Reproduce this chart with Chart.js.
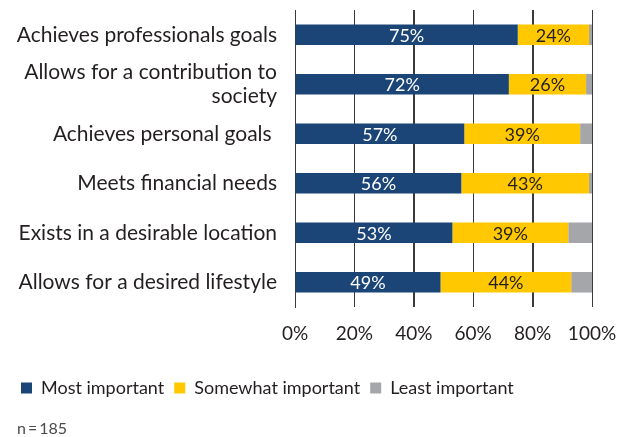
<!DOCTYPE html>
<html>
<head>
<meta charset="utf-8">
<script src="https://cdn.jsdelivr.net/npm/chart.js@4/dist/chart.umd.min.js"></script>
<style>
  html, body { margin: 0; padding: 0; background: #fff; }
  .wrap { position: relative; width: 617px; height: 437px; }
  #chart { display: block; }
  #note {
    position: absolute; left: 17px; top: 418px;
    font: 16px Lato, "Open Sans", sans-serif; line-height: 20px; color: #4a4a4a;
  }
</style>
</head>
<body>
<div class="wrap">
  <canvas id="chart" width="617" height="437"></canvas>
  <div id="note"></div>
</div>
<script>
// ===== data =====
const categories = [
  "Achieves professionals goals",
  ["Allows for a contribution to", "society"],
  "Achieves personal goals ",
  "Meets financial needs",
  "Exists in a desirable location",
  "Allows for a desired lifestyle"
];
const mostImportant = [75, 72, 57, 56, 53, 49];
const somewhatImportant = [24, 26, 39, 43, 39, 44];
const leastImportant = [1, 2, 4, 1, 8, 7];
const seriesNames = ["Most important", "Somewhat important", "Least important"];
const xTicks = [0, 20, 40, 60, 80, 100];
const note = "n\u2009=\u2009185";

// ===== style =====
const FONT = "Lato, 'Open Sans', sans-serif";
const BLUE = "#1b4477";
const YELLOW = "#ffc800";
const GREY = "#a5a6a9";
const TEXT = "#231f20";
const GRID = "#3a3a3a";

document.getElementById("note").textContent = note;

// vertical grid lines at the x ticks, painted behind what is already drawn
const xGrid = {
  id: "xGrid",
  afterDraw(chart){
    const { ctx, chartArea } = chart;
    const sx = chart.scales.x;
    ctx.save();
    ctx.globalCompositeOperation = "destination-over";
    ctx.strokeStyle = GRID;
    ctx.lineWidth = 1;
    xTicks.forEach(v => {
      const x = Math.round(sx.getPixelForValue(v)) + 0.5;
      ctx.beginPath();
      ctx.moveTo(x, chartArea.top);
      ctx.lineTo(x, chartArea.bottom);
      ctx.stroke();
    });
    ctx.restore();
  }
};

// bar value labels (skip the grey series)
const barLabels = {
  id: "barLabels",
  afterDatasetsDraw(chart){
    const ctx = chart.ctx;
    ctx.save();
    ctx.font = `18px ${FONT}`;
    ctx.textAlign = "center";
    ctx.textBaseline = "middle";
    [0, 1].forEach(di => {
      const meta = chart.getDatasetMeta(di);
      ctx.fillStyle = di === 0 ? "#ffffff" : TEXT;
      meta.data.forEach((el, i) => {
        const p = el.getProps(["x", "y", "base"], true);
        const v = chart.data.datasets[di].data[i];
        ctx.fillText(v + "%", (p.x + p.base) / 2, p.y + 1);
      });
    });
    ctx.restore();
  }
};

new Chart(document.getElementById("chart"), {
  type: "bar",
  data: {
    labels: categories,
    datasets: [
      { label: seriesNames[0], data: mostImportant, backgroundColor: BLUE },
      { label: seriesNames[1], data: somewhatImportant, backgroundColor: YELLOW },
      { label: seriesNames[2], data: leastImportant, backgroundColor: GREY }
    ]
  },
  options: {
    indexAxis: "y",
    responsive: false,
    animation: false,
    datasets: { bar: { categoryPercentage: 1, barPercentage: 0.415 } },
    layout: { padding: { top: 10, left: 11, right: 0, bottom: 30 } },
    scales: {
      x: {
        stacked: true, min: 0, max: 100,
        afterFit: s => { s.height = 62; s.paddingRight = 25; s.paddingLeft = 0; },
        grid: { color: GRID, lineWidth: 1, drawTicks: false },
        border: { display: false },
        ticks: {
          stepSize: 20, padding: 15, color: TEXT,
          font: { family: FONT, size: 19 },
          callback: v => xTicks.includes(v) ? v + "%" : ""
        }
      },
      y: {
        stacked: true,
        afterFit: s => { s.width = 284; s.paddingTop = 0; s.paddingBottom = 0; },
        grid: { display: false, drawTicks: false },
        border: { display: true, color: GRID },
        ticks: {
          autoSkip: false, padding: 18, color: TEXT,
          font: { family: FONT, size: 21, lineHeight: 1.13 }
        }
      }
    },
    plugins: {
      legend: {
        position: "bottom", align: "start",
        labels: {
          boxWidth: 11, boxHeight: 11, padding: 10, color: TEXT,
          font: { family: FONT, size: 18 }
        }
      },
      tooltip: { enabled: false }
    }
  },
  plugins: [barLabels, xGrid]
});
</script>
</body>
</html>
